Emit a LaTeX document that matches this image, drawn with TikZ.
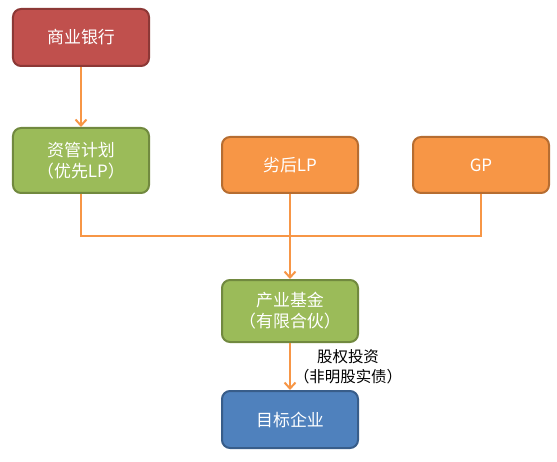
\documentclass[tikz,border=0pt]{standalone}
\usepackage{fontspec}
\setmainfont{Noto Sans CJK SC}
\usetikzlibrary{arrows.meta,positioning}
\definecolor{bankred}{HTML}{C0504D}
\definecolor{bankredD}{HTML}{8C3836}
\definecolor{fundgreen}{HTML}{9BBB59}
\definecolor{fundgreenD}{HTML}{71893F}
\definecolor{lporange}{HTML}{F79646}
\definecolor{lporangeD}{HTML}{B66D31}
\definecolor{firmblue}{HTML}{4F81BD}
\definecolor{firmblueD}{HTML}{385D8A}

\begin{document}
\begin{tikzpicture}[
  x=1bp, y=-1bp,
  font=\fontsize{17}{21}\selectfont,
  box/.style={rectangle, rounded corners=8bp, draw=#1D, line width=2bp,
              fill=#1, text=white, minimum width=136bp, align=center,
              inner sep=2pt},
  link/.style={lporange, line width=2bp},
  arr/.style={link, -{Straight Barb[length=6bp,width=11bp,line width=2bp]}},
  lab/.style={font=\fontsize{15.5}{20}\selectfont, text=black, align=center,
              inner sep=1pt}
]
\useasboundingbox[fill=white] (0,0) rectangle (557,462);

% ---- top: bank ----
\node[box=bankred, minimum height=57bp] (bank) at (81,37.5) {商业银行};

% ---- partners ----
\node[box=fundgreen, minimum height=65bp] (plan) at (81,160.5)
  {资管计划\\（优先LP）};
\node[box=lporange, minimum height=56bp] (lp) at (290,165) {劣后LP};
\node[box=lporange, minimum height=56bp] (gp) at (481,165) {GP};

% ---- fund and target ----
\node[box=fundgreen, minimum height=62bp] (fund) at (290,311)
  {产业基金\\（有限合伙）};
\node[box=firmblue, minimum height=57bp] (firm) at (290,419.5) {目标企业};

\coordinate (bus) at (290,236);

% arrows
\draw[arr] (bank) -- (plan);
\draw[link] (plan.south) |- (bus) -| (gp.south);
\draw[arr] (lp.south) -- (fund.north);
\draw[arr] (fund) -- (firm)
  node[lab, midway, right=2bp] {股权投资\\（非明股实债）};
\end{tikzpicture}
\end{document}
